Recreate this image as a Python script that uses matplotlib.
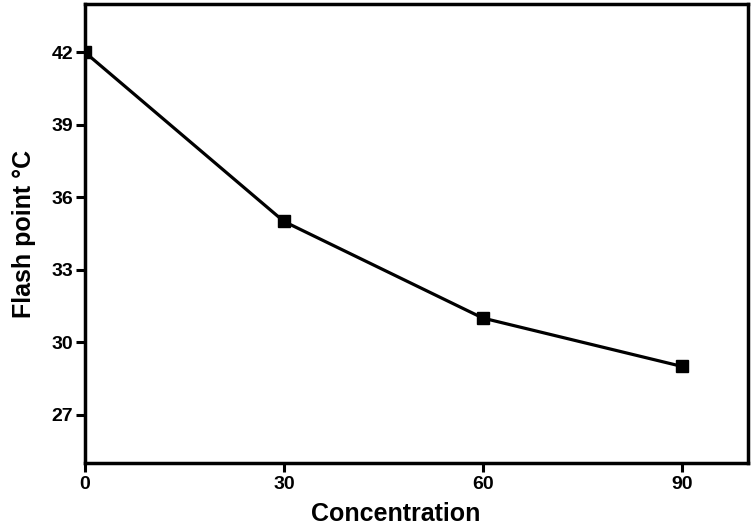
import matplotlib
matplotlib.use("Agg")
import matplotlib.pyplot as plt

concentration = [0, 30, 60, 90]
flash_point = [42, 35, 31, 29]
x_ticks = [0, 30, 60, 90]
y_ticks = [27, 30, 33, 36, 39, 42]

plt.rcParams['font.family'] = ['Liberation Sans', 'DejaVu Sans']
plt.rcParams['font.weight'] = 'bold'

fig = plt.figure(figsize=(7.56, 5.29), dpi=100)
ax = fig.add_axes([0.1124, 0.1248, 0.877, 0.8676])

ax.plot(concentration, flash_point, color='black', linewidth=2.3,
        marker='s', markersize=9, markerfacecolor='black', markeredgecolor='black')

ax.set_xlim(0, 100)
ax.set_ylim(25, 44)
ax.set_xticks(x_ticks)
ax.set_yticks(y_ticks)
ax.tick_params(axis='both', direction='out', length=6.5, width=2.2, labelsize=14)
ax.tick_params(axis='x', pad=3)
ax.tick_params(axis='y', pad=2)
for lab in ax.get_xticklabels() + ax.get_yticklabels():
    lab.set_fontweight('bold')
for s in ax.spines.values():
    s.set_linewidth(2.5)

ax.set_xlabel('Concentration', fontsize=18, fontweight='bold')
ax.set_ylabel('Flash point °C', fontsize=18, fontweight='bold')
ax.xaxis.set_label_coords((396 - 85) / 663, -(502 - 463) / 459)
ax.xaxis.label.set_va('top')
ax.yaxis.set_label_coords(-(85 - 36) / 663, 0.5)

fig.savefig('out.png', dpi=100)
